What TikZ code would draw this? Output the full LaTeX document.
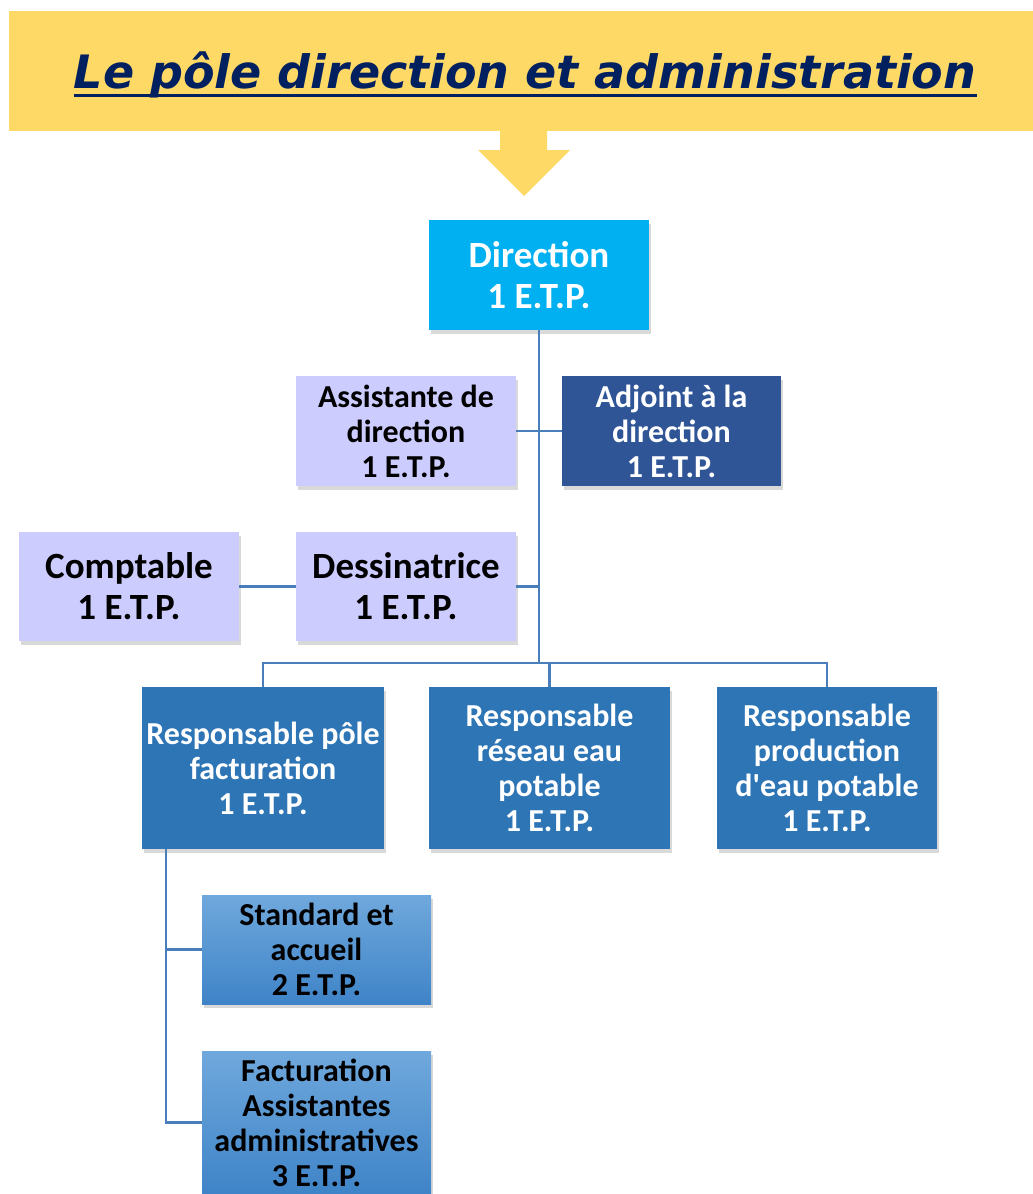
\documentclass[tikz,border=0pt]{standalone}
\usepackage{fontspec}
\usepackage{graphicx}
\setmainfont{Carlito}
\newfontfamily\titlefont{DejaVu Sans}
\usetikzlibrary{shadows}
\definecolor{banner}{HTML}{FFD966}
\definecolor{navy}{HTML}{002060}
\definecolor{dircol}{HTML}{00B0F0}
\definecolor{lav}{HTML}{CCCCFF}
\definecolor{adjcol}{HTML}{2F5597}
\definecolor{respcol}{HTML}{2E75B6}
\definecolor{linecol}{HTML}{4A7EBB}
\definecolor{gradtop}{HTML}{6FA8DC}
\definecolor{gradbot}{HTML}{3F84C8}
\tikzset{
  orgbox/.style={rectangle, inner sep=2pt, align=center,
    drop shadow={shadow xshift=1.5pt, shadow yshift=-4pt, opacity=0.3}},
  bigtxt/.style={font=\fontsize{37}{41}\selectfont\bfseries},
  smalltxt/.style={font=\fontsize{32}{35}\selectfont\bfseries},
  conn/.style={draw=linecol, line width=2.5pt},
}
\begin{document}
\begin{tikzpicture}[x=1pt,y=-1pt]
\useasboundingbox (0,0) rectangle (1033,1194);
% banner
\fill[banner] (9,11) rectangle (1033,131);
\fill[banner] (500,131) -- (547,131) -- (547,150) -- (570,150) -- (524,196) -- (478,150) -- (500,150) -- cycle;
\node[inner sep=0, anchor=base, text=navy] (title) at (525,88)
  {\titlefont\bfseries\itshape\fontsize{46}{50}\selectfont Le pôle direction et administration};
\draw[navy, line width=3pt] ([yshift=-7pt]title.base west) -- ([yshift=-7pt]title.base east);

% boxes
\node[orgbox, bigtxt, fill=dircol, text=white, minimum width=220pt, minimum height=110pt] (dir) at (539,275) {Direction\\1 E.T.P.};
\node[orgbox, smalltxt, fill=lav, text=black, minimum width=220pt, minimum height=110pt] (asst) at (406,431) {Assistante de\\direction\\1 E.T.P.};
\node[orgbox, smalltxt, fill=adjcol, text=white, minimum width=219pt, minimum height=110pt] (adj) at (671.5,431) {Adjoint à la\\direction\\1 E.T.P.};
\node[orgbox, bigtxt, fill=lav, text=black, minimum width=220pt, minimum height=109pt] (compt) at (129,586.5) {Comptable\\1 E.T.P.};
\node[orgbox, bigtxt, fill=lav, text=black, minimum width=220pt, minimum height=109pt] (dess) at (406,586.5) {Dessinatrice\\1 E.T.P.};
\node[orgbox, smalltxt, fill=respcol, text=white, minimum width=242pt, minimum height=162pt] (rpf) at (263,768) {Responsable pôle\\facturation\\1 E.T.P.};
\node[orgbox, smalltxt, fill=respcol, text=white, minimum width=241pt, minimum height=162pt] (rre) at (549.5,768) {Responsable\\réseau eau\\potable\\1 E.T.P.};
\node[orgbox, smalltxt, fill=respcol, text=white, minimum width=220pt, minimum height=162pt] (rpr) at (827,768) {Responsable\\production\\d\textquotesingle eau potable\\1 E.T.P.};
\node[orgbox, smalltxt, top color=gradtop, bottom color=gradbot, text=black, minimum width=229pt, minimum height=109pt] (std) at (316.5,949.5) {Standard et\\accueil\\2 E.T.P.};
\node[orgbox, smalltxt, top color=gradtop, bottom color=gradbot, text=black, minimum width=229pt, minimum height=143pt] (fact) at (316.5,1122.5) {Facturation\\Assistantes\\administratives\\3 E.T.P.};

% connectors
\coordinate (bus) at (539,663);
\coordinate (spine) at (166,849);
\draw[conn] (dir.south) -- (bus);
\draw[conn] (asst.east) -- (adj.west);
\draw[conn] (dess.east) -- (dess.east -| bus);
\draw[conn] (compt.east) -- (dess.west);
\draw[conn] (rpf.north) |- (bus) -| (rpr.north);
\draw[conn] (rre.north) -- (rre.north |- bus);
\draw[conn] (spine) |- (fact.west);
\draw[conn] (spine |- std.west) -- (std.west);
\end{tikzpicture}
\end{document}
